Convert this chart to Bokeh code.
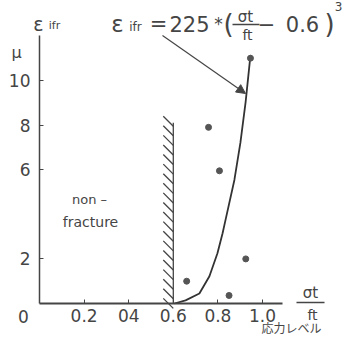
import numpy as np
from bokeh.plotting import figure
from bokeh.models import Label, FixedTicker, Arrow, NormalHead, Range1d
from bokeh.embed import file_html
from bokeh.resources import INLINE

# ---- data ----
x_ticks = [0.2, 0.4, 0.6, 0.8, 1.0]
x_tick_labels = ["0.2", "04", "0.6", "0.8", "1.0"]
y_ticks = [2, 6, 8, 10]
y_tick_labels = ["2", "6", "8", "10"]

curve_x = [0.605, 0.655, 0.717, 0.762, 0.798, 0.821, 0.834, 0.874, 0.901, 0.924, 0.946]
curve_y = [0.0, 0.14, 0.45, 1.22, 2.25, 3.15, 3.74, 5.54, 7.21, 9.01, 11.13]

pts_x = [0.66, 0.758, 0.807, 0.85, 0.925, 0.946]
pts_y = [1.0, 7.9, 5.95, 0.36, 2.0, 11.0]

boundary_x = 0.6
boundary_top = 8.4

# ---- layout ----
W, H = 344, 335
X0, XS = 39, 223.0    # px of x=0 in figure, px per unit
Y0, YS = 303, 22.3    # px (from top) of y=0, px per unit
INK = "#454545"
FONT = "DejaVu Sans"

def dx(ix):
    return (ix - 8 - X0) / XS

def dy(iy):
    return (Y0 - (iy - 8)) / YS

p = figure(width=W, height=H,
           x_range=Range1d(-X0 / XS, (W - X0) / XS),
           y_range=Range1d(-(H - Y0) / YS, Y0 / YS),
           output_backend="svg", toolbar_location=None, min_border=0)
p.grid.visible = False
p.outline_line_color = None
p.background_fill_color = "white"

for ax in (p.xaxis[0], p.yaxis[0]):
    ax.fixed_location = 0
    ax.axis_line_color = INK
    ax.major_tick_line_color = INK
    ax.minor_tick_line_color = None
    ax.major_tick_out = 0
    ax.major_tick_in = 4
    ax.major_label_text_color = INK
    ax.major_label_text_font = FONT
    ax.major_label_text_font_size = "17px"

p.xaxis.bounds = (0, 1.09)
p.yaxis.bounds = (0, 12.0)
p.xaxis.axis_line_width = 2
p.yaxis.axis_line_width = 1.5
p.xaxis.ticker = FixedTicker(ticks=x_ticks)
p.xaxis.major_label_overrides = dict(zip(x_ticks, x_tick_labels))
p.yaxis.ticker = FixedTicker(ticks=y_ticks)
p.yaxis.major_label_overrides = dict(zip(y_ticks, y_tick_labels))
p.xaxis.major_label_standoff = 5
p.yaxis.major_label_standoff = 9

# boundary with hatching
p.line([boundary_x, boundary_x], [0, boundary_top - 0.3], line_color=INK, line_width=1.3)
hy = np.arange(boundary_top, 0.2, -0.43)
p.segment(x0=boundary_x - 0.045, y0=hy, x1=boundary_x, y1=hy - 0.45,
          line_color=INK, line_width=1.3)

# curve and points
p.line(curve_x, curve_y, line_color="#333333", line_width=1.8)
p.scatter(pts_x, pts_y, size=6, fill_color="#555555", line_color="#555555")

# arrow from formula to curve
p.add_layout(Arrow(end=NormalHead(size=9, fill_color=INK, line_color=INK),
                   x_start=dx(170), y_start=dy(43), x_end=dx(253), y_end=dy(101),
                   line_color=INK, line_width=1.2))

def lab(text, ix, iy, size, align="center", baseline="middle", font=FONT):
    p.add_layout(Label(x=ix - 8, y=H - (iy - 8), x_units="screen", y_units="screen",
                       text=text, text_font_size=f"{size}px", text_align=align,
                       text_baseline=baseline, text_color=INK, text_font=font))

# origin label and axis titles
lab("0", 31, 324, 17)
lab("ε", 46, 31, 19)
lab("ifr", 62, 33, 11)
lab("μ", 24, 60, 16)

# x-axis title (fraction)
lab("σt", 318, 300, 15)
p.segment(x0=[dx(304)], y0=[dy(310)], x1=[dx(332)], y1=[dy(310)], line_color=INK, line_width=1.5)
lab("ft", 320, 322, 14)
lab("応力レベル", 299, 335, 12, font="Noto Sans CJK JP")

# region label
lab("non –", 97, 207, 13)
lab("fracture", 98, 229, 14)

# formula
lab("ε", 125, 31, 23)
lab("ifr", 143, 34, 12)
lab("=", 166, 31, 21)
lab("225", 197, 31, 21)
lab("*", 226, 31, 17)
lab("(", 236, 31, 26)
lab("σt", 253, 24, 15)
p.segment(x0=[dx(240)], y0=[dy(32)], x1=[dx(267)], y1=[dy(32)], line_color=INK, line_width=1.5)
lab("ft", 255, 42, 14)
lab("−", 274, 31, 21)
lab("0.6", 310, 31, 21)
lab(")", 337, 31, 26)
lab("3", 346, 14, 12)

open("out.html", "w").write(file_html(p, INLINE))
